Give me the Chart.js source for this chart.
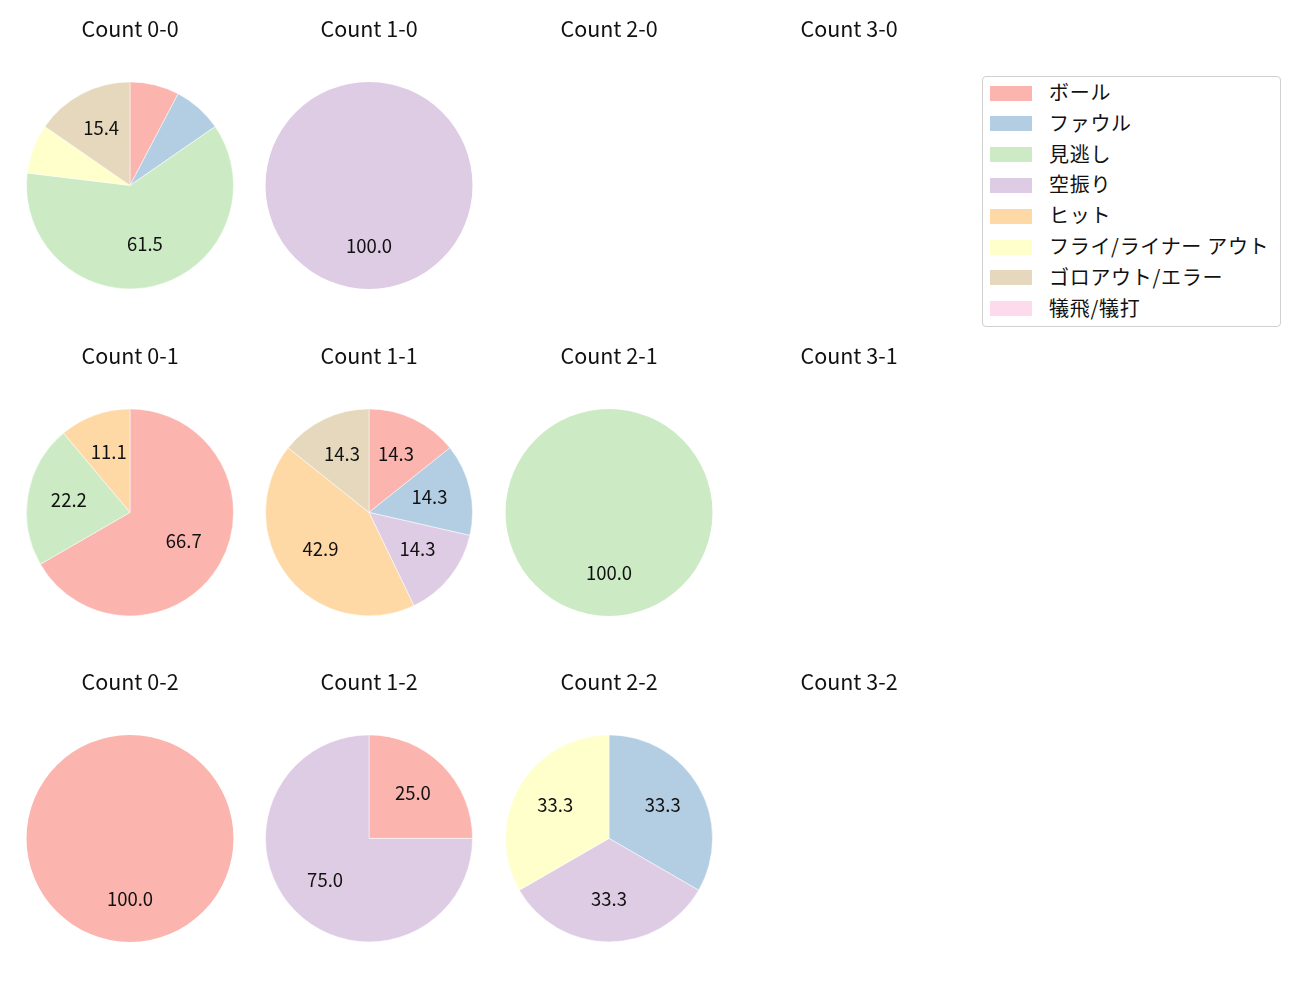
<!DOCTYPE html>
<html>
<head>
<meta charset="utf-8">
<script src="https://cdn.jsdelivr.net/npm/chart.js@4/dist/chart.umd.min.js"></script>
<style>
  body { margin: 0; background: #fff; }
  #wrap { position: relative; width: 1300px; height: 1000px; font-family: 'Noto Sans CJK JP', sans-serif; }
  #wrap canvas { position: absolute; }
  #legend { position: absolute; left: 982px; top: 76px; width: 297px; height: 249px;
            border: 1px solid #d0d0d0; border-radius: 4px; background: #fff; }
  .item { position: absolute; left: 0; height: 20px; }
  .patch { position: absolute; left: 7px; top: 2px; width: 42px; height: 15px; }
  .lbl { position: absolute; left: 66px; top: -6.5px; white-space: nowrap; font-size: 20px; color: #111; letter-spacing: 0.7px; }
</style>
</head>
<body>
<div id="wrap"><div id="legend"></div></div>
<script>
// 구분
const categories = ['ボール', 'ファウル', '見逃し', '空振り', 'ヒット', 'フライ/ライナー アウト', 'ゴロアウト/エラー', '犠飛/犠打'];
const colors = ['#fbb4ae', '#b3cde3', '#ccebc5', '#decbe4', '#fed9a6', '#ffffcc', '#e5d8bd', '#fddaec'];

// 카운트별 투구 결과 (rows: strikes, cols: balls)
const titles = [
    ['Count 0-0', 'Count 1-0', 'Count 2-0', 'Count 3-0'],
    ['Count 0-1', 'Count 1-1', 'Count 2-1', 'Count 3-1'],
    ['Count 0-2', 'Count 1-2', 'Count 2-2', 'Count 3-2']
];
const count00 = [1, 1, 8, 0, 0, 1, 2, 0];
const count10 = [0, 0, 0, 1, 0, 0, 0, 0];
const count20 = [0, 0, 0, 0, 0, 0, 0, 0];
const count30 = [0, 0, 0, 0, 0, 0, 0, 0];
const count01 = [6, 0, 2, 0, 1, 0, 0, 0];
const count11 = [1, 1, 0, 1, 3, 0, 1, 0];
const count21 = [0, 0, 1, 0, 0, 0, 0, 0];
const count31 = [0, 0, 0, 0, 0, 0, 0, 0];
const count02 = [1, 0, 0, 0, 0, 0, 0, 0];
const count12 = [1, 0, 0, 3, 0, 0, 0, 0];
const count22 = [0, 1, 0, 1, 0, 1, 0, 0];
const count32 = [0, 0, 0, 0, 0, 0, 0, 0];
const values = [
    [count00, count10, count20, count30],
    [count01, count11, count21, count31],
    [count02, count12, count22, count32]
];

const colLeft = [10, 249, 489, 729];
const rowTop = [0, 327, 653];

// 퍼센트 라벨 (10% 이상만)
const pctLabels = {
    id: 'pctLabels',
    afterDatasetsDraw(chart) {
        const ctx = chart.ctx;
        const meta = chart.getDatasetMeta(0);
        const data = chart.data.datasets[0].data;
        const total = data.reduce((a, b) => a + b, 0);
        if (!total) return;
        ctx.save();
        ctx.font = '18.5px "Noto Sans CJK JP"';
        ctx.fillStyle = '#111';
        ctx.textAlign = 'center';
        ctx.textBaseline = 'middle';
        meta.data.forEach(function (arc, i) {
            const p = data[i] / total * 100;
            if (p < 10) return;
            const mid = (arc.startAngle + arc.endAngle) / 2;
            const r = arc.outerRadius * 0.6;
            ctx.fillText(p.toFixed(1), arc.x + Math.cos(mid) * r, arc.y + Math.sin(mid) * r - 2);
        });
        ctx.restore();
    }
};

const wrap = document.getElementById('wrap');
for (let r = 0; r < 3; r++) {
    for (let c = 0; c < 4; c++) {
        const cv = document.createElement('canvas');
        cv.width = 240;
        cv.height = 326;
        cv.style.left = colLeft[c] + 'px';
        cv.style.top = rowTop[r] + 'px';
        wrap.appendChild(cv);
        const vals = values[r][c];
        const total = vals.reduce((a, b) => a + b, 0);
        new Chart(cv.getContext('2d'), {
            type: 'pie',
            data: {
                labels: categories,
                datasets: [{
                    data: vals,
                    backgroundColor: colors,
                    borderColor: '#ffffff',
                    borderWidth: vals.map(v => (v > 0 && v < total) ? 0.5 : 0),
                    radius: 103.5
                }]
            },
            options: {
                responsive: false,
                animation: false,
                layout: { padding: 0 },
                plugins: {
                    legend: { display: false },
                    tooltip: { enabled: false },
                    title: {
                        display: true,
                        text: titles[r][c],
                        color: '#111',
                        font: { family: '"Noto Sans CJK JP"', size: 21.5, weight: 'normal' },
                        padding: { top: 16, bottom: 3 }
                    }
                }
            },
            plugins: [pctLabels]
        });
    }
}

// 범례
const legend = document.getElementById('legend');
categories.forEach(function (name, i) {
    const item = document.createElement('div');
    item.className = 'item';
    item.style.top = (6.5 + 30.8 * i) + 'px';
    item.innerHTML = '<div class="patch" style="background:' + colors[i] + '"></div><div class="lbl">' + name + '</div>';
    legend.appendChild(item);
});
</script>
</body>
</html>
